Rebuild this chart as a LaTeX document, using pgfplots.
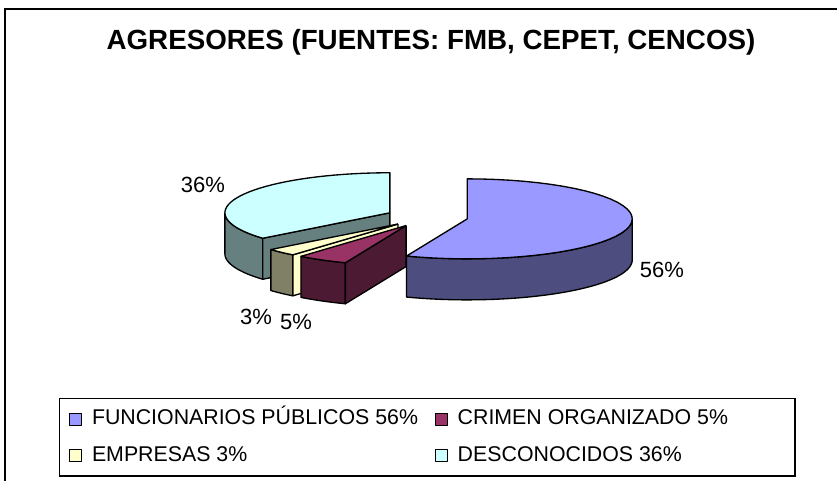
\documentclass[border=0pt]{standalone}
\usepackage{pgfplots}
\pgfplotsset{compat=1.18}
\usepackage{fontspec}
\setmainfont{Liberation Sans}

\definecolor{funcT}{HTML}{9999FF}
\definecolor{funcS}{HTML}{4D4D80}
\definecolor{crimT}{HTML}{993366}
\definecolor{crimS}{HTML}{4D1A33}
\definecolor{empT}{HTML}{FFFFCC}
\definecolor{empS}{HTML}{808066}
\definecolor{desT}{HTML}{CCFFFF}
\definecolor{desS}{HTML}{668080}

% data (percent)
\def\vFunc{56}\def\vCrim{5}\def\vEmp{3}\def\vDes{36}
% geometry in pixel units
\def\R{165}\def\RY{40}\def\D{41}\def\E{41}\def\CX{427}\def\CY{264}
\pgfmathsetmacro\aA{0}
\pgfmathsetmacro\aB{\aA+3.6*\vFunc}
\pgfmathsetmacro\aC{\aB+3.6*\vCrim}
\pgfmathsetmacro\aD{\aC+3.6*\vEmp}
\pgfmathsetmacro\aE{\aD+3.6*\vDes}
% exploded centres
\pgfmathsetmacro\cxF{\CX+\E*sin((\aA+\aB)/2)}
\pgfmathsetmacro\cyF{\CY+\E*\RY/\R*cos((\aA+\aB)/2)}
\pgfmathsetmacro\cxC{\CX+\E*sin((\aB+\aC)/2)}
\pgfmathsetmacro\cyC{\CY+\E*\RY/\R*cos((\aB+\aC)/2)}
\pgfmathsetmacro\cxM{\CX+\E*sin((\aC+\aD)/2)}
\pgfmathsetmacro\cyM{\CY+\E*\RY/\R*cos((\aC+\aD)/2)}
\pgfmathsetmacro\cxS{\CX+\E*sin((\aD+\aE)/2)}
\pgfmathsetmacro\cyS{\CY+\E*\RY/\R*cos((\aD+\aE)/2)}
\pgfmathsetmacro\cyCb{\cyC-\D}
\pgfmathsetmacro\cyMb{\cyM-\D}
\pgfmathsetmacro\cySb{\cyS-\D}
% radial faces
\pgfmathsetmacro\pxC{\cxC+\R*sin(\aB)}
\pgfmathsetmacro\pyC{\cyC+\RY*cos(\aB)}
\pgfmathsetmacro\pyCb{\pyC-\D}
\pgfmathsetmacro\pxM{\cxM+\R*sin(\aC)}
\pgfmathsetmacro\pyM{\cyM+\RY*cos(\aC)}
\pgfmathsetmacro\pyMb{\pyM-\D}
\pgfmathsetmacro\pxS{\cxS+\R*sin(\aD)}
\pgfmathsetmacro\pyS{\cyS+\RY*cos(\aD)}
\pgfmathsetmacro\pySb{\pyS-\D}

\begin{document}
\begin{tikzpicture}
\begin{axis}[
  scale only axis, width=627.75bp, height=360.75bp,
  xmin=0, xmax=837, ymin=0, ymax=481,
  hide axis, clip=false,
  declare function={
    secR(\t)=(\t<1)?\t:((\t<2)?1:3-\t);
    secA(\t,\angA,\angB)=(\t<1)?\angA:((\t<2)?\angA+(\angB-\angA)*(\t-1):\angB);
    sidA(\t,\angA,\angB)=(\t<1)?\angA+(\angB-\angA)*\t:((\t<2)?\angB:((\t<3)?\angB-(\angB-\angA)*(\t-2):\angA));
    sidD(\t)=(\t<1)?0:((\t<2)?\t-1:((\t<3)?1:4-\t));
  },
  every axis plot/.append style={line width=1bp, line join=round, draw=black},
  legend columns=2,
  legend image code/.code={\draw[#1] (0bp,-4.5bp) rectangle (9bp,4.5bp);},
  legend style={
    at={(0.0705,0.1726)}, anchor=north west,
    draw=black, line width=0.9bp,
    inner xsep=7bp, inner ysep=8bp,
    row sep=12.5bp,
    font=\fontsize{16bp}{18bp}\selectfont,
    nodes={inner sep=0pt, text height=11.8bp, text depth=3bp},
    /tikz/every odd column/.style={column sep=7.5bp},
    /tikz/every even column/.style={column sep=0bp},
  },
]
% legend
\addlegendimage{fill=funcT, draw=black, line width=0.8bp}
\addlegendentry{\makebox[257bp][l]{FUNCIONARIOS PÚBLICOS 56\%}}
\addlegendimage{fill=crimT, draw=black, line width=0.8bp}
\addlegendentry{\makebox[246bp][l]{CRIMEN ORGANIZADO 5\%}}
\addlegendimage{fill=empT, draw=black, line width=0.8bp}
\addlegendentry{\makebox[257bp][l]{EMPRESAS 3\%}}
\addlegendimage{fill=desT, draw=black, line width=0.8bp}
\addlegendentry{\makebox[246bp][l]{DESCONOCIDOS 36\%}}

% DESCONOCIDOS
\addplot[forget plot, fill=desS, domain=0:4, samples=161, variable=\t]
  ({\cxS+\R*sin(sidA(\t,\aD,270))}, {\cyS+\RY*cos(sidA(\t,\aD,270))-\D*sidD(\t)});
\addplot[forget plot, fill=desS] coordinates {(\cxS,\cyS) (\pxS,\pyS) (\pxS,\pySb) (\cxS,\cySb) (\cxS,\cyS)};
\addplot[forget plot, fill=desT, domain=0:3, samples=121, variable=\t]
  ({\cxS+secR(\t)*\R*sin(secA(\t,\aD,\aE))}, {\cyS+secR(\t)*\RY*cos(secA(\t,\aD,\aE))});

% FUNCIONARIOS
\addplot[forget plot, fill=funcS, domain=0:4, samples=161, variable=\t]
  ({\cxF+\R*sin(sidA(\t,90,\aB))}, {\cyF+\RY*cos(sidA(\t,90,\aB))-\D*sidD(\t)});
\addplot[forget plot, fill=funcT, domain=0:3, samples=121, variable=\t]
  ({\cxF+secR(\t)*\R*sin(secA(\t,\aA,\aB))}, {\cyF+secR(\t)*\RY*cos(secA(\t,\aA,\aB))});

% EMPRESAS
\addplot[forget plot, fill=empS, domain=0:4, samples=41, variable=\t]
  ({\cxM+\R*sin(sidA(\t,\aC,\aD))}, {\cyM+\RY*cos(sidA(\t,\aC,\aD))-\D*sidD(\t)});
\addplot[forget plot, fill=empT] coordinates {(\cxM,\cyM) (\pxM,\pyM) (\pxM,\pyMb) (\cxM,\cyMb) (\cxM,\cyM)};
\addplot[forget plot, fill=empT, domain=0:3, samples=61, variable=\t]
  ({\cxM+secR(\t)*\R*sin(secA(\t,\aC,\aD))}, {\cyM+secR(\t)*\RY*cos(secA(\t,\aC,\aD))});

% CRIMEN
\addplot[forget plot, fill=crimS, domain=0:4, samples=81, variable=\t]
  ({\cxC+\R*sin(sidA(\t,\aB,\aC))}, {\cyC+\RY*cos(sidA(\t,\aB,\aC))-\D*sidD(\t)});
\addplot[forget plot, fill=crimS] coordinates {(\cxC,\cyC) (\pxC,\pyC) (\pxC,\pyCb) (\cxC,\cyCb) (\cxC,\cyC)};
\addplot[forget plot, fill=crimT, domain=0:3, samples=61, variable=\t]
  ({\cxC+secR(\t)*\R*sin(secA(\t,\aB,\aC))}, {\cyC+secR(\t)*\RY*cos(secA(\t,\aB,\aC))});

% labels
\node[font=\fontsize{16.5bp}{18bp}\selectfont] at (axis cs:662,211) {56\%};
\node[font=\fontsize{16.5bp}{18bp}\selectfont] at (axis cs:203,296) {36\%};
\node[font=\fontsize{16.5bp}{18bp}\selectfont] at (axis cs:256,164) {3\%};
\node[font=\fontsize{16.5bp}{18bp}\selectfont] at (axis cs:296,159) {5\%};
% title
\node[font=\bfseries\fontsize{20.8bp}{24bp}\selectfont] at (axis cs:431,439) {AGRESORES (FUENTES: FMB, CEPET, CENCOS)};
% chart area frame
\draw[line width=1.2bp] (axis cs:5,-10) -- (axis cs:5,472) -- (axis cs:850,472);
\end{axis}
\pgfresetboundingbox
\path (0,0) rectangle (627.75bp,360.75bp);
\end{tikzpicture}
\end{document}
